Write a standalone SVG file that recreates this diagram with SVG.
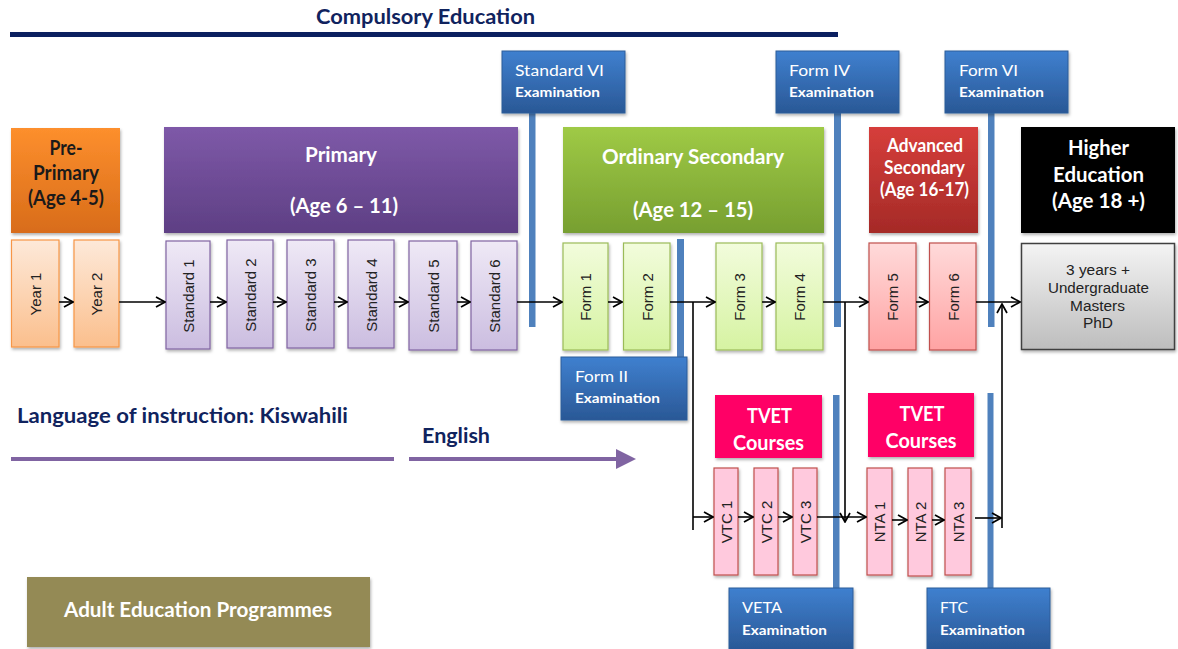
<svg xmlns="http://www.w3.org/2000/svg" width="1178" height="649" viewBox="0 0 1178 649">
<style>
text{font-family:Lato,"Open Sans","Liberation Sans",sans-serif}
.title{font-weight:bold;font-size:21.5px;fill:#10235e}
.hdr{font-weight:bold;font-size:21px;fill:#fff;text-anchor:middle}
.hdrd{font-weight:bold;font-size:20px;fill:#1a1a1a;text-anchor:middle}
.e1{font-size:16px;fill:#fff}
.e2{font-size:13.5px;font-weight:bold;fill:#fff}
.rot{font-family:"Liberation Sans",Arial,sans-serif;font-size:15px;fill:#222;text-anchor:middle;dominant-baseline:central}
.lang{font-weight:bold;font-size:20px;fill:#10235e}
.he{font-family:"Liberation Sans",Arial,sans-serif;font-size:14px;fill:#222;text-anchor:middle}
.bar{fill:#4f81bd}
.yr{fill:url(#gYr);stroke:#f79646;stroke-width:1.2}
.st{fill:url(#gSt);stroke:#8064a2;stroke-width:1.2}
.fm{fill:url(#gFm);stroke:#9bbb59;stroke-width:1.2}
.fa{fill:url(#gFa);stroke:#c0504d;stroke-width:1.2}
.vt{fill:#ffc9dd;stroke:#c0504d;stroke-width:1.2}
.exam{fill:url(#gEx);stroke:#2c5d99;stroke-width:1}
.conn line{stroke:#000;stroke-width:1.6;fill:none}
</style>
<defs>
<linearGradient id="gYr" x1="0" y1="0" x2="0" y2="1"><stop offset="0" stop-color="#fde9d9"/><stop offset="1" stop-color="#fbbf8d"/></linearGradient>
<linearGradient id="gSt" x1="0" y1="0" x2="0" y2="1"><stop offset="0" stop-color="#efe9f6"/><stop offset="1" stop-color="#cbbde0"/></linearGradient>
<linearGradient id="gFm" x1="0" y1="0" x2="0" y2="1"><stop offset="0" stop-color="#f2fcdc"/><stop offset="1" stop-color="#d6f3a2"/></linearGradient>
<linearGradient id="gFa" x1="0" y1="0" x2="0" y2="1"><stop offset="0" stop-color="#ffdada"/><stop offset="1" stop-color="#ffa3a3"/></linearGradient>
<linearGradient id="gHe" x1="0" y1="0" x2="0" y2="1"><stop offset="0" stop-color="#f4f4f4"/><stop offset="1" stop-color="#bdbdbd"/></linearGradient>
<linearGradient id="gEx" x1="0" y1="0" x2="0" y2="1"><stop offset="0" stop-color="#3f80cf"/><stop offset="1" stop-color="#2a5896"/></linearGradient>
<linearGradient id="gPre" x1="0" y1="0" x2="0" y2="1"><stop offset="0" stop-color="#fd8f2d"/><stop offset="1" stop-color="#d86c1a"/></linearGradient>
<linearGradient id="gPri" x1="0" y1="0" x2="0" y2="1"><stop offset="0" stop-color="#7e59a8"/><stop offset="1" stop-color="#5e3f84"/></linearGradient>
<linearGradient id="gOrd" x1="0" y1="0" x2="0" y2="1"><stop offset="0" stop-color="#9fca46"/><stop offset="1" stop-color="#779f30"/></linearGradient>
<linearGradient id="gAdv" x1="0" y1="0" x2="0" y2="1"><stop offset="0" stop-color="#d63e3b"/><stop offset="1" stop-color="#a52a27"/></linearGradient>
<filter id="sh" x="-10%" y="-10%" width="130%" height="130%"><feDropShadow dx="1" dy="2" stdDeviation="1.5" flood-color="#000" flood-opacity="0.3"/></filter>
<marker id="ar" viewBox="0 0 12 12" refX="11" refY="6" markerWidth="12" markerHeight="12" markerUnits="userSpaceOnUse" orient="auto"><path d="M2,1 L11,6 L2,11" fill="none" stroke="#000" stroke-width="1.7"/></marker>
<marker id="arp" viewBox="0 0 10 10" refX="8" refY="5" markerWidth="5" markerHeight="5" orient="auto"><path d="M0,0 L10,5 L0,10 Z" fill="#8064a2"/></marker>
</defs>
<rect width="1178" height="649" fill="#fff"/>

<g id="title">
<text class="title" x="316" y="24" textLength="219" lengthAdjust="spacingAndGlyphs">Compulsory Education</text>
<line x1="10" y1="34.5" x2="838" y2="34.5" stroke="#0b2060" stroke-width="5"/>
</g>

<g id="exam-bars">
<rect class="bar" x="529" y="112" width="6.5" height="215"/>
<rect class="bar" x="834" y="112" width="7" height="215"/>
<rect class="bar" x="988" y="112" width="6.5" height="215"/>
<rect class="bar" x="677" y="239" width="7" height="120"/>
<rect class="bar" x="833" y="395" width="6.5" height="195"/>
<rect class="bar" x="987.5" y="393" width="6" height="197"/>
</g>

<g id="pre-primary">
<rect x="11" y="128" width="109" height="105" fill="url(#gPre)" filter="url(#sh)"/>
<text class="hdrd" x="66" y="155" textLength="33" lengthAdjust="spacingAndGlyphs">Pre-</text>
<text class="hdrd" x="66" y="180" textLength="66" lengthAdjust="spacingAndGlyphs">Primary</text>
<text class="hdrd" x="66" y="205" textLength="76" lengthAdjust="spacingAndGlyphs">(Age 4-5)</text>
</g>
<g id="primary">
<rect x="164" y="127" width="354" height="106" fill="url(#gPri)" filter="url(#sh)"/>
<text class="hdr" x="341" y="162" textLength="72" lengthAdjust="spacingAndGlyphs">Primary</text>
<text class="hdr" x="344" y="213" textLength="108" lengthAdjust="spacingAndGlyphs">(Age 6 – 11)</text>
</g>
<g id="ordinary-secondary">
<rect x="563" y="127" width="261" height="106" fill="url(#gOrd)" filter="url(#sh)"/>
<text class="hdr" x="693" y="164" textLength="182" lengthAdjust="spacingAndGlyphs">Ordinary Secondary</text>
<text class="hdr" x="693" y="217" textLength="120" lengthAdjust="spacingAndGlyphs">(Age 12 – 15)</text>
</g>
<g id="advanced-secondary">
<rect x="869" y="127" width="109" height="106" fill="url(#gAdv)" filter="url(#sh)"/>
<text class="hdr" x="925" y="152" style="font-size:18px" textLength="76" lengthAdjust="spacingAndGlyphs">Advanced</text>
<text class="hdr" x="924.5" y="174" style="font-size:18px" textLength="81" lengthAdjust="spacingAndGlyphs">Secondary</text>
<text class="hdr" x="924.5" y="196" style="font-size:18px" textLength="89" lengthAdjust="spacingAndGlyphs">(Age 16-17)</text>
</g>
<g id="higher-education">
<rect x="1021" y="127" width="154" height="106" fill="#000" filter="url(#sh)"/>
<text class="hdr" x="1098.5" y="155" textLength="61" lengthAdjust="spacingAndGlyphs">Higher</text>
<text class="hdr" x="1098.5" y="182" textLength="91" lengthAdjust="spacingAndGlyphs">Education</text>
<text class="hdr" x="1098.5" y="208" textLength="93" lengthAdjust="spacingAndGlyphs">(Age 18 +)</text>
</g>

<g id="year1"><rect class="yr" x="11.5" y="240" width="47.5" height="107" filter="url(#sh)"/><text class="rot" transform="translate(35,294) rotate(-90)">Year 1</text></g>
<g id="year2"><rect class="yr" x="74" y="240" width="45" height="107" filter="url(#sh)"/><text class="rot" transform="translate(96.5,294) rotate(-90)">Year 2</text></g>

<g id="std1"><rect class="st" x="166" y="241" width="44" height="108" filter="url(#sh)"/><text class="rot" transform="translate(188,296) rotate(-90)">Standard 1</text></g>
<g id="std2"><rect class="st" x="227" y="240" width="46" height="108" filter="url(#sh)"/><text class="rot" transform="translate(250,295) rotate(-90)">Standard 2</text></g>
<g id="std3"><rect class="st" x="287" y="240" width="47" height="108" filter="url(#sh)"/><text class="rot" transform="translate(310.5,295) rotate(-90)">Standard 3</text></g>
<g id="std4"><rect class="st" x="348" y="240" width="46" height="108" filter="url(#sh)"/><text class="rot" transform="translate(371,295) rotate(-90)">Standard 4</text></g>
<g id="std5"><rect class="st" x="409" y="241" width="48" height="109" filter="url(#sh)"/><text class="rot" transform="translate(433,296) rotate(-90)">Standard 5</text></g>
<g id="std6"><rect class="st" x="471" y="241" width="46" height="109" filter="url(#sh)"/><text class="rot" transform="translate(494,296) rotate(-90)">Standard 6</text></g>

<g id="form1"><rect class="fm" x="563" y="243" width="45" height="107" filter="url(#sh)"/><text class="rot" transform="translate(585.5,297) rotate(-90)">Form 1</text></g>
<g id="form2"><rect class="fm" x="623.5" y="243" width="46.5" height="107" filter="url(#sh)"/><text class="rot" transform="translate(647,297) rotate(-90)">Form 2</text></g>
<g id="form3"><rect class="fm" x="716" y="243" width="46" height="107" filter="url(#sh)"/><text class="rot" transform="translate(739,297) rotate(-90)">Form 3</text></g>
<g id="form4"><rect class="fm" x="776" y="243" width="47" height="107" filter="url(#sh)"/><text class="rot" transform="translate(799.5,297) rotate(-90)">Form 4</text></g>
<g id="form5"><rect class="fa" x="869" y="243" width="47" height="107" filter="url(#sh)"/><text class="rot" transform="translate(892.5,297) rotate(-90)">Form 5</text></g>
<g id="form6"><rect class="fa" x="929.5" y="243" width="46.5" height="107" filter="url(#sh)"/><text class="rot" transform="translate(953,297) rotate(-90)">Form 6</text></g>

<g id="higher-box">
<rect x="1021.5" y="243.5" width="153" height="106" fill="url(#gHe)" stroke="#404040" stroke-width="1.5" filter="url(#sh)"/>
<text class="he" x="1098" y="275" textLength="64" lengthAdjust="spacingAndGlyphs">3 years +</text>
<text class="he" x="1098.5" y="293" textLength="101" lengthAdjust="spacingAndGlyphs">Undergraduate</text>
<text class="he" x="1097.5" y="311" textLength="55" lengthAdjust="spacingAndGlyphs">Masters</text>
<text class="he" x="1098" y="328" textLength="30" lengthAdjust="spacingAndGlyphs">PhD</text>
</g>

<g id="tvet1"><rect x="715" y="395" width="107" height="63" fill="#ff0066" filter="url(#sh)"/><text class="hdr" x="769.5" y="423" style="font-size:20px" textLength="45" lengthAdjust="spacingAndGlyphs">TVET</text><text class="hdr" x="768.5" y="450" style="font-size:20px" textLength="71" lengthAdjust="spacingAndGlyphs">Courses</text></g>
<g id="tvet2"><rect x="868" y="393" width="106" height="64" fill="#ff0066" filter="url(#sh)"/><text class="hdr" x="922" y="421" style="font-size:20px" textLength="45" lengthAdjust="spacingAndGlyphs">TVET</text><text class="hdr" x="921" y="448" style="font-size:20px" textLength="71" lengthAdjust="spacingAndGlyphs">Courses</text></g>

<g id="vtc1"><rect class="vt" x="714" y="468" width="24" height="107" filter="url(#sh)"/><text class="rot" transform="translate(726,522) rotate(-90)">VTC 1</text></g>
<g id="vtc2"><rect class="vt" x="754" y="468" width="24" height="107" filter="url(#sh)"/><text class="rot" transform="translate(766,522) rotate(-90)">VTC 2</text></g>
<g id="vtc3"><rect class="vt" x="793" y="468" width="24" height="107" filter="url(#sh)"/><text class="rot" transform="translate(805,522) rotate(-90)">VTC 3</text></g>
<g id="nta1"><rect class="vt" x="867" y="468" width="25" height="107" filter="url(#sh)"/><text class="rot" transform="translate(879.5,522) rotate(-90)">NTA 1</text></g>
<g id="nta2"><rect class="vt" x="908" y="468" width="24" height="108" filter="url(#sh)"/><text class="rot" transform="translate(920,522) rotate(-90)">NTA 2</text></g>
<g id="nta3"><rect class="vt" x="945" y="468" width="26" height="107" filter="url(#sh)"/><text class="rot" transform="translate(958,522) rotate(-90)">NTA 3</text></g>

<g id="exam-std6"><rect class="exam" x="502" y="51" width="123" height="62" filter="url(#sh)"/><text class="e1" x="515" y="76" textLength="89" lengthAdjust="spacingAndGlyphs">Standard VI</text><text class="e2" x="515" y="97" textLength="85" lengthAdjust="spacingAndGlyphs">Examination</text></g>
<g id="exam-form4"><rect class="exam" x="776" y="51" width="123" height="62" filter="url(#sh)"/><text class="e1" x="789" y="76" textLength="61" lengthAdjust="spacingAndGlyphs">Form IV</text><text class="e2" x="789" y="97" textLength="85" lengthAdjust="spacingAndGlyphs">Examination</text></g>
<g id="exam-form6"><rect class="exam" x="945" y="51" width="123" height="62" filter="url(#sh)"/><text class="e1" x="959" y="76" textLength="59" lengthAdjust="spacingAndGlyphs">Form VI</text><text class="e2" x="959" y="97" textLength="85" lengthAdjust="spacingAndGlyphs">Examination</text></g>
<g id="exam-form2"><rect class="exam" x="561" y="357" width="126" height="63" filter="url(#sh)"/><text class="e1" x="575" y="382" textLength="53" lengthAdjust="spacingAndGlyphs">Form II</text><text class="e2" x="575" y="403" textLength="85" lengthAdjust="spacingAndGlyphs">Examination</text></g>
<g id="exam-veta"><rect class="exam" x="729" y="588" width="124" height="62" filter="url(#sh)"/><text class="e1" x="742" y="613" textLength="40" lengthAdjust="spacingAndGlyphs">VETA</text><text class="e2" x="742" y="635" textLength="85" lengthAdjust="spacingAndGlyphs">Examination</text></g>
<g id="exam-ftc"><rect class="exam" x="927" y="588" width="123" height="62" filter="url(#sh)"/><text class="e1" x="940" y="613" textLength="28" lengthAdjust="spacingAndGlyphs">FTC</text><text class="e2" x="940" y="635" textLength="85" lengthAdjust="spacingAndGlyphs">Examination</text></g>

<g id="language">
<text class="lang" x="17" y="423" textLength="331" lengthAdjust="spacingAndGlyphs">Language of instruction: Kiswahili</text>
<text class="lang" x="422" y="443" textLength="68" lengthAdjust="spacingAndGlyphs">English</text>
<line x1="11" y1="459" x2="394" y2="459" stroke="#8064a2" stroke-width="4"/>
<line x1="409" y1="459" x2="632" y2="459" stroke="#8064a2" stroke-width="4" marker-end="url(#arp)"/>
</g>

<g id="adult-education">
<rect x="27" y="577" width="343" height="70" fill="#948a54" filter="url(#sh)"/>
<text class="hdr" x="198" y="617" style="font-size:20px" textLength="268" lengthAdjust="spacingAndGlyphs">Adult Education Programmes</text>
</g>

<g id="connectors" class="conn">
<line x1="59" y1="302" x2="73" y2="302" marker-end="url(#ar)"/>
<line x1="119" y1="302" x2="165" y2="302" marker-end="url(#ar)"/>
<line x1="210" y1="302" x2="226" y2="302" marker-end="url(#ar)"/>
<line x1="273" y1="302" x2="286" y2="302" marker-end="url(#ar)"/>
<line x1="334" y1="302" x2="347" y2="302" marker-end="url(#ar)"/>
<line x1="394" y1="302" x2="408" y2="302" marker-end="url(#ar)"/>
<line x1="457" y1="302" x2="470" y2="302" marker-end="url(#ar)"/>
<line x1="517" y1="302" x2="562" y2="302" marker-end="url(#ar)"/>
<line x1="608" y1="302" x2="622" y2="302" marker-end="url(#ar)"/>
<line x1="670" y1="302" x2="715" y2="302" marker-end="url(#ar)"/>
<line x1="762" y1="302" x2="775" y2="302" marker-end="url(#ar)"/>
<line x1="823" y1="302" x2="868" y2="302" marker-end="url(#ar)"/>
<line x1="916" y1="302" x2="928" y2="302" marker-end="url(#ar)"/>
<line x1="976" y1="302" x2="1020" y2="302" marker-end="url(#ar)"/>
<line x1="693" y1="302" x2="693" y2="530"/>
<line x1="693" y1="517" x2="713" y2="517" marker-end="url(#ar)"/>
<line x1="845" y1="302" x2="845" y2="522" marker-end="url(#ar)"/>
<line x1="738" y1="517" x2="753" y2="517" marker-end="url(#ar)"/>
<line x1="778" y1="517" x2="792" y2="517" marker-end="url(#ar)"/>
<line x1="817" y1="517" x2="866" y2="517" marker-end="url(#ar)"/>
<line x1="892" y1="520" x2="907" y2="520" marker-end="url(#ar)"/>
<line x1="932" y1="520" x2="944" y2="520" marker-end="url(#ar)"/>
<line x1="975" y1="518" x2="1001" y2="518" marker-end="url(#ar)"/>
<line x1="1002" y1="528" x2="1002" y2="304" marker-end="url(#ar)"/>
</g>
</svg>
